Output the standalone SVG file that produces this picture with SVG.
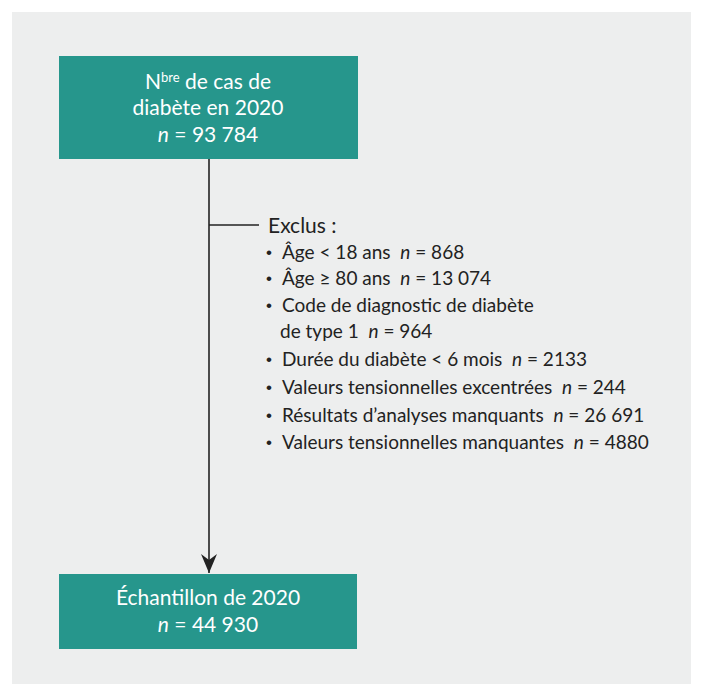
<svg xmlns="http://www.w3.org/2000/svg" width="703" height="696" viewBox="0 0 703 696">
<style>
.box{fill:#26968c}
.w{fill:#ffffff;font-family:"Source Sans Pro",Lato,"Liberation Sans",sans-serif;font-size:21px;text-anchor:middle}
.t{fill:#222222;font-family:"Source Sans Pro",Lato,"Liberation Sans",sans-serif;font-size:19px}
.h{fill:#222222;font-family:"Source Sans Pro",Lato,"Liberation Sans",sans-serif;font-size:21px}
.b{fill:#222222;font-family:"Liberation Sans",sans-serif;font-size:17px}
.ln{stroke:#222222;stroke-width:1.6;fill:none}
</style>
<defs>
<marker id="arr" markerWidth="20" markerHeight="16" refX="19" refY="8" orient="auto" markerUnits="userSpaceOnUse">
<path d="M0,0 L19,8 L0,16 L6,8 Z" fill="#222222"/>
</marker>
</defs>
<rect x="12" y="12" width="679" height="672" fill="#edeeee"/>
<g id="connectors">
<line class="ln" x1="209" y1="159" x2="209" y2="573" marker-end="url(#arr)"/>
<line class="ln" x1="209" y1="225" x2="259" y2="225"/>
</g>
<g id="top">
<rect class="box" x="59" y="56" width="299" height="103"/>
<text class="w" x="208" y="89">N<tspan font-size="13" dy="-7">bre</tspan><tspan dy="7"> de cas de</tspan></text>
<text class="w" x="208" y="115">diabète en 2020</text>
<text class="w" x="208" y="142"><tspan font-style="italic">n</tspan> = 93 784</text>
</g>
<g id="exclus">
<text class="h" x="268" y="233">Exclus :</text>
<text class="b" x="266" y="258">•</text><text class="t" x="282" y="259">Âge &lt; 18 ans &#160;<tspan font-style="italic">n</tspan> = 868</text>
<text class="b" x="266" y="284">•</text><text class="t" x="282" y="285">Âge ≥ 80 ans &#160;<tspan font-style="italic">n</tspan> = 13 074</text>
<text class="b" x="266" y="311">•</text><text class="t" x="282" y="312">Code de diagnostic de diabète</text>
<text class="t" x="280" y="338">de type 1 &#160;<tspan font-style="italic">n</tspan> = 964</text>
<text class="b" x="266" y="365">•</text><text class="t" x="282" y="366">Durée du diabète &lt; 6 mois &#160;<tspan font-style="italic">n</tspan> = 2133</text>
<text class="b" x="266" y="393">•</text><text class="t" x="282" y="394">Valeurs tensionnelles excentrées &#160;<tspan font-style="italic">n</tspan> = 244</text>
<text class="b" x="266" y="421">•</text><text class="t" x="282" y="422">Résultats d’analyses manquants &#160;<tspan font-style="italic">n</tspan> = 26 691</text>
<text class="b" x="266" y="448">•</text><text class="t" x="282" y="449">Valeurs tensionnelles manquantes &#160;<tspan font-style="italic">n</tspan> = 4880</text>
</g>
<g id="bottom">
<rect class="box" x="59" y="574" width="298" height="75"/>
<text class="w" x="208" y="605">Échantillon de 2020</text>
<text class="w" x="208" y="632"><tspan font-style="italic">n</tspan> = 44 930</text>
</g>
</svg>
